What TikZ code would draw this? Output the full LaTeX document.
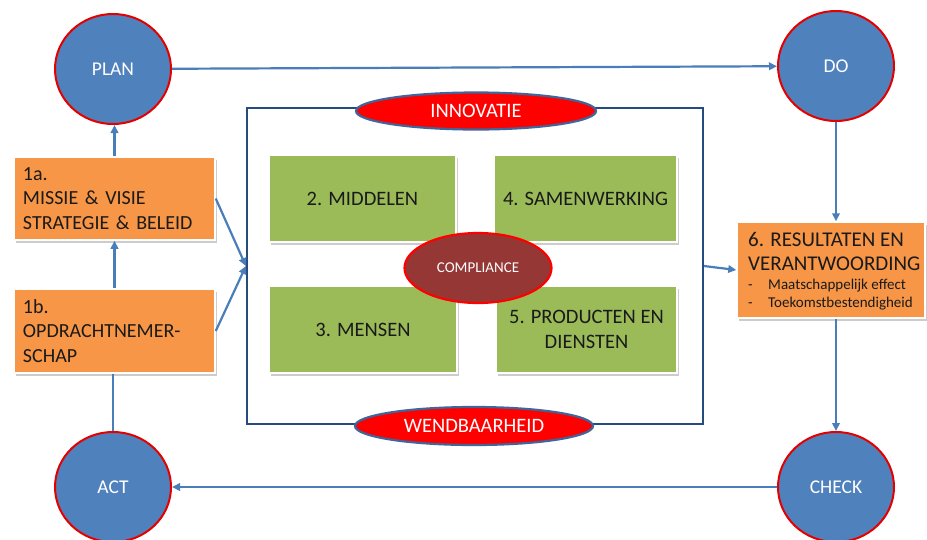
\documentclass[tikz,border=0pt]{standalone}
\usepackage{fontspec}
\setmainfont{Carlito}
\usetikzlibrary{arrows.meta,shapes.geometric,shadows}
\definecolor{cblue}{HTML}{4F81BD}
\definecolor{lblue}{HTML}{4A7EBB}
\definecolor{navy}{HTML}{264B7E}
\definecolor{corange}{HTML}{F79646}
\definecolor{cgreen}{HTML}{9BBB59}
\definecolor{dred}{HTML}{953735}
\definecolor{ebord}{HTML}{3F659A}
\definecolor{ctext}{HTML}{1A1A1A}
\begin{document}
\begin{tikzpicture}[x=1pt,y=-1pt,
  pdca/.style={ellipse, fill=cblue, draw=red!90!black, line width=2pt, minimum width=116pt, minimum height=110pt, inner sep=0pt, text=white, font=\fontsize{19.5}{22}\selectfont},
  shbox/.style={rectangle, draw=white, line width=1.5pt, general shadow={fill=black!20, shadow xshift=2pt, shadow yshift=-2.5pt}},
  obox/.style={shbox, fill=corange, text=ctext, inner xsep=9pt, inner ysep=0pt, align=left, font=\fontsize{20}{24.5}\selectfont},
  gbox/.style={shbox, fill=cgreen, text=ctext, inner sep=0pt, align=center, minimum height=87pt, font=\fontsize{20.5}{25}\selectfont},
  lbl/.style={ellipse, fill=red, draw=ebord, line width=2.2pt, inner sep=0pt, text=white, font=\fontsize{20.5}{22}\selectfont},
  arr/.style={draw=lblue, line width=2.2pt, -{Triangle[length=8pt,width=7.5pt]}},
  ln/.style={draw=lblue, line width=2.2pt},
  txt/.style={inner sep=0pt, anchor=west, align=left, text=ctext}
]
\useasboundingbox (0,0) rectangle (927,539);
\fill[white] (0,0) rectangle (927,539);

% frame
\node[draw=navy, line width=2.2pt, minimum width=456pt, minimum height=316pt, inner sep=0pt] (frame) at (475,266) {};
\node[lbl, minimum width=240pt, minimum height=37pt] (innov) at (476,111) {INNOVATIE};
\node[lbl, minimum width=238pt, minimum height=38pt] (wend) at (474,426) {WENDBAARHEID};

% green boxes
\node[gbox, minimum width=187pt] (g2) at (362.5,198.5) {2. MIDDELEN};
\node[gbox, minimum width=183pt] (g4) at (585.5,198.5) {4. SAMENWERKING};
\node[gbox, minimum width=188pt] (g3) at (363,329.5) {3. MENSEN};
\node[gbox, minimum width=181pt] (g5) at (586.5,329.5) {5. PRODUCTEN EN\\DIENSTEN};
\node[ellipse, fill=dred, draw=red, line width=2.2pt, minimum width=147pt, minimum height=70pt, inner sep=0pt, text=white, font=\fontsize{15}{16}\selectfont] (comp) at (478,268) {COMPLIANCE};

% PDCA circles
\node[pdca] (plan) at (113,69) {PLAN};
\node[pdca] (do) at (836,66) {DO};
\node[pdca] (check) at (836,487) {CHECK};
\node[pdca] (act) at (113,487) {ACT};

% orange boxes
\node[obox, minimum width=201pt, minimum height=83pt, text width=183pt] (m1a) at (114.5,198.5) {1a.\\MISSIE \& VISIE\\STRATEGIE \& BELEID};
\node[obox, minimum width=201pt, minimum height=84pt, text width=183pt] (m1b) at (114.5,331) {1b.\\OPDRACHTNEMER-\\SCHAP};
\node[shbox, fill=corange, minimum width=188pt, minimum height=96pt, inner sep=0pt] (r6) at (831,270) {};
\node[txt, font=\fontsize{21}{24}\selectfont] (r6a) at (748,251) {6. RESULTATEN EN\\VERANTWOORDING};
\node[txt, font=\fontsize{15}{18}\selectfont] (r6b) at (748,295) {\makebox[20pt][l]{-}Maatschappelijk effect\\\makebox[20pt][l]{-}Toekomstbestendigheid};

% connectors
\draw[arr] (plan) -- (do);
\draw[arr] (check) -- (act);
\draw[arr] (m1a.north) -- (m1a.north |- plan.south);
\draw[arr] (m1b.north) -- (m1a.south);
\draw[ln] (act.north) -- (act.north |- m1b.south);
\draw[arr] (m1a.east) -- (frame.west);
\draw[arr] (m1b.east) -- (frame.west);
\draw[arr] (frame.east) -- (r6.west);
\draw[arr] (do.south) -- (do.south |- r6.north);
\draw[arr] (check.north |- r6.south) -- (check.north);
\end{tikzpicture}
\end{document}
